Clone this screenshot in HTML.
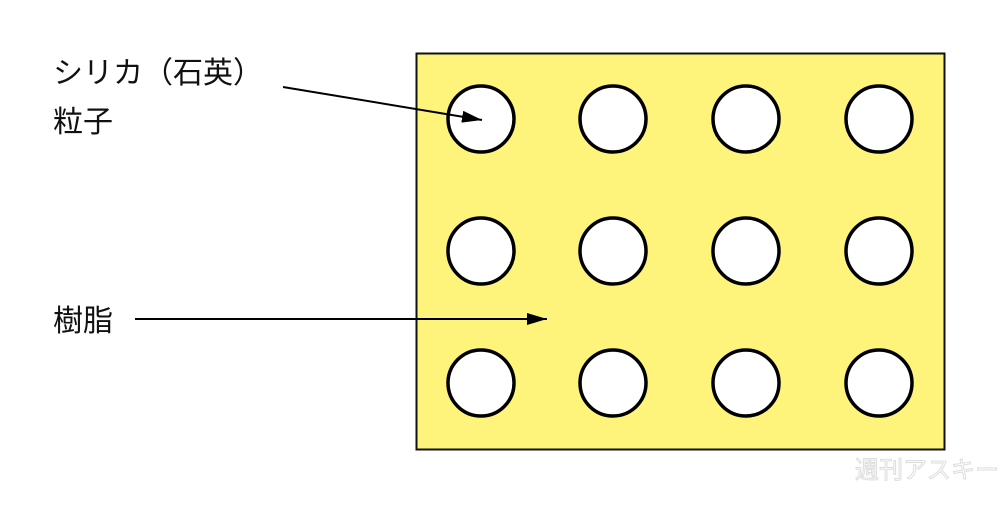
<!DOCTYPE html>
<html><head><meta charset="utf-8"><style>
body{margin:0;background:#fff;width:1000px;height:503px;overflow:hidden}
text{font-family:"Liberation Sans","Noto Sans CJK JP",sans-serif;font-size:30px;fill:#111}
</style></head><body>
<svg width="1000" height="503" viewBox="0 0 1000 503">
<defs>
<marker id="b" markerWidth="20" markerHeight="12" refX="20" refY="6" orient="auto" markerUnits="userSpaceOnUse"><path d="M0,0 L20,6 L0,12 z" fill="#000"/></marker></defs>
<rect x="416.5" y="53.5" width="528" height="396" fill="#fff47b" stroke="#111" stroke-width="2"/>
<g fill="#fff" stroke="#000" stroke-width="3.5">
<circle cx="481" cy="119" r="33"/><circle cx="613" cy="119" r="33"/><circle cx="746" cy="119" r="33"/><circle cx="879" cy="119" r="33"/>
<circle cx="481" cy="251" r="33"/><circle cx="613" cy="251" r="33"/><circle cx="746" cy="251" r="33"/><circle cx="879" cy="251" r="33"/>
<circle cx="481" cy="383" r="33"/><circle cx="613" cy="383" r="33"/><circle cx="746" cy="383" r="33"/><circle cx="879" cy="383" r="33"/>
</g>
<line x1="283" y1="87" x2="482" y2="120" stroke="#000" stroke-width="2" marker-end="url(#b)"/>
<line x1="135" y1="319" x2="547" y2="319" stroke="#000" stroke-width="2" marker-end="url(#b)"/>
<text x="53" y="83">シリカ（石英）</text>
<text x="53" y="132">粒子</text>
<text x="53" y="331">樹脂</text>
<text x="855" y="478" style="font-size:24px;fill:#fff;stroke:#ddd;stroke-width:1">週刊アスキー</text>
</svg>
</body></html>
